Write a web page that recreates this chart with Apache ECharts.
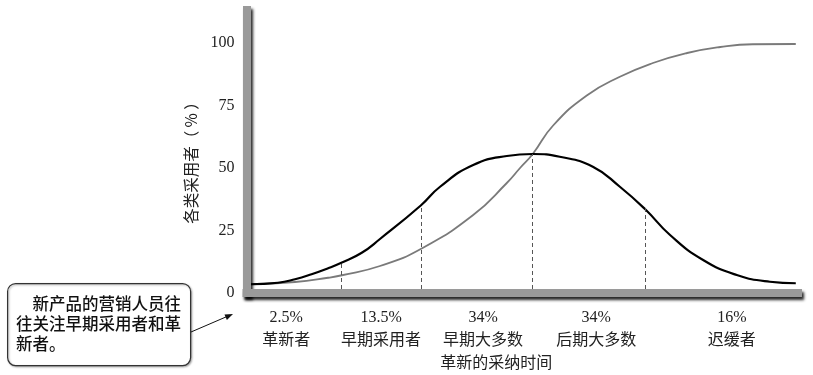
<!DOCTYPE html>
<html>
<head>
<meta charset="utf-8">
<script src="https://cdn.jsdelivr.net/npm/echarts@6/dist/echarts.min.js"></script>
<style>html,body{margin:0;padding:0;background:#fff;}#c{width:813px;height:375px;}</style>
</head>
<body>
<div id="c"></div>
<script>
// Time axis (abstract 0-100) and values (% of adopters)
var bellX = [0.6, 5.7, 8.8, 11.8, 14.8, 17.2, 20.9, 24.2, 31.6, 35.1, 41.1, 47.2, 51.9, 56.8, 62.8, 67.7, 72.3, 76.8, 82.8, 88.9, 94.9, 99.6];
var bellY = [3.5, 4.1, 5.5, 7.5, 9.9, 12.1, 16.1, 21.6, 35.0, 42.5, 51.2, 54.8, 55.6, 54.5, 50.5, 42.5, 33.5, 23.2, 13.2, 7.2, 4.5, 3.9];
var cumX = [0.6, 8.8, 14.8, 17.3, 24.2, 31.6, 41.1, 47.2, 49.6, 51.9, 55.6, 61.7, 67.7, 73.7, 79.9, 85.9, 91.8, 99.6];
var cumY = [3.5, 4.4, 6.1, 7.1, 10.8, 17.6, 31.2, 44.0, 50.0, 55.6, 67.0, 79.0, 86.5, 92.0, 96.0, 98.4, 99.5, 99.6];
var boundX = [17.2, 31.6, 51.9, 72.3];
var boundTop = [12.1, 35.2, 55.6, 34.0];
var segPos = [7.2, 24.4, 42.9, 63.4, 88.0];
var segPct = ['2.5%', '13.5%', '34%', '34%', '16%'];
var segName = ['革新者', '早期采用者', '早期大多数', '后期大多数', '迟缓者'];
var yTicks = [0, 25, 50, 75, 100];
var calloutLines = ['\u3000新产品的营销人员往', '往关注早期采用者和革', '新者。'];

function pairs(xs, ys) { return xs.map(function (x, i) { return [x, ys[i]]; }); }

var chart = echarts.init(document.getElementById('c'));
var barStyle = {
  color: '#9a9a9a', width: 8, cap: 'square',
  shadowColor: 'rgba(0,0,0,0.85)', shadowBlur: 3, shadowOffsetX: 2, shadowOffsetY: 3
};
var serif = 'Liberation Serif';
var cjk = 'Noto Sans CJK SC';

var markData = boundX.map(function (x, i) {
  return [{ coord: [x, 1.6] }, { coord: [x, boundTop[i]] }];
});

chart.setOption({
  animation: false,
  backgroundColor: '#fff',
  grid: { left: 246.5, right: 15, top: 10, bottom: 82 },
  xAxis: {
    type: 'value', min: 0, max: 100, z: 5,
    axisLine: { show: true, lineStyle: barStyle },
    axisTick: { show: false },
    splitLine: { show: false },
    axisLabel: {
      customValues: segPos,
      margin: 15,
      formatter: function (v) {
        var i = segPos.indexOf(v);
        if (i < 0) return '';
        return '{p|' + segPct[i] + '}\n{n|' + segName[i] + '}';
      },
      rich: {
        p: { fontFamily: serif, fontSize: 16, color: '#222', lineHeight: 20 },
        n: { fontFamily: cjk, fontSize: 16, color: '#222', lineHeight: 21 }
      }
    },
    name: '革新的采纳时间',
    nameLocation: 'middle',
    nameGap: 61,
    nameTextStyle: { fontFamily: cjk, fontSize: 16, color: '#222', padding: [0, 52, 0, 0] }
  },
  yAxis: {
    type: 'value', min: 0, max: 113.2, interval: 25, z: 5,
    axisLine: { show: true, lineStyle: barStyle },
    axisTick: { show: false },
    splitLine: { show: false },
    axisLabel: {
      margin: 12,
      fontFamily: serif, fontSize: 16, color: '#222',
      formatter: function (v) { return yTicks.indexOf(v) >= 0 ? String(v) : ''; }
    },
    name: '各类采用者（ % ）',
    nameLocation: 'middle',
    nameGap: 48,
    nameTextStyle: { fontFamily: cjk, fontSize: 15.5, color: '#222', padding: [0, 15, 0, 0] }
  },
  series: [
    {
      type: 'line', data: pairs(cumX, cumY), smooth: 0.5,
      showSymbol: false, silent: true, z: 2,
      lineStyle: { color: '#7a7a7a', width: 1.8 }
    },
    {
      type: 'line', data: pairs(bellX, bellY), smooth: 0.5,
      showSymbol: false, silent: true, z: 3,
      lineStyle: { color: '#000', width: 2.2 },
      markLine: {
        silent: true, symbol: ['none', 'none'], label: { show: false },
        lineStyle: { color: '#555', width: 1, type: [4, 3] },
        data: markData
      }
    }
  ],
  graphic: [
    {
      type: 'rect', left: 7, top: 283, z: 10,
      shape: { width: 183, height: 82, r: 8 },
      style: { fill: '#fff', stroke: '#333', lineWidth: 1.2, shadowColor: 'rgba(0,0,0,0.3)', shadowBlur: 2, shadowOffsetX: 1, shadowOffsetY: 1 }
    },
    {
      type: 'text', left: 16, top: 294, z: 11,
      style: { text: calloutLines.join('\n'), fontFamily: cjk, fontSize: 16.5, fontWeight: 500, lineHeight: 20, fill: '#111' }
    },
    {
      type: 'line', z: 10,
      shape: { x1: 191, y1: 332, x2: 227, y2: 316.5 },
      style: { stroke: '#111', lineWidth: 1 }
    },
    {
      type: 'polygon', z: 10,
      shape: { points: [[233, 314], [226.9, 320], [224.5, 314.5]] },
      style: { fill: '#111' }
    }
  ]
});
</script>
</body>
</html>
